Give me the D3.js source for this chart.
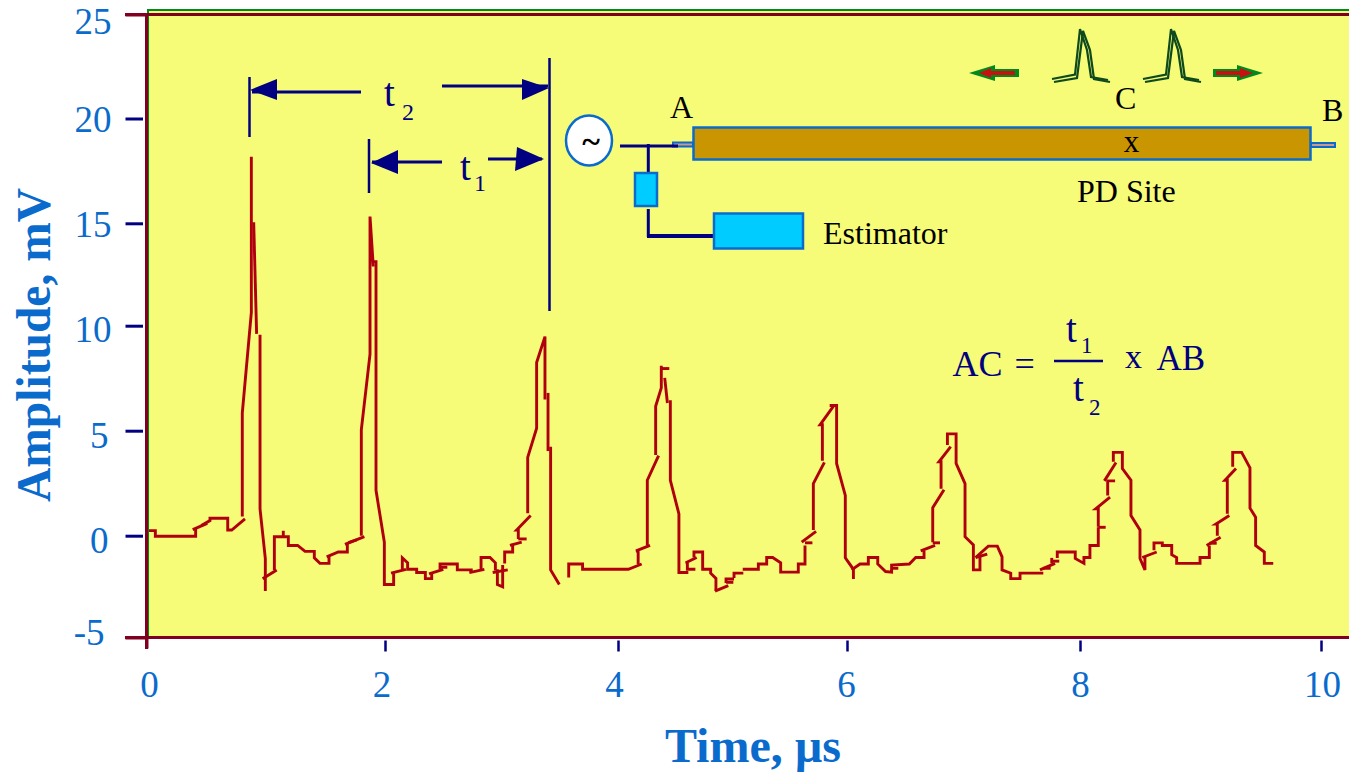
<!DOCTYPE html>
<html><head><meta charset="utf-8">
<style>html,body{margin:0;padding:0;background:#fff;overflow:hidden}svg{display:block}text{font-family:"Liberation Serif","Times New Roman",serif}</style>
<script src="https://cdn.jsdelivr.net/npm/d3@7"></script></head><body>
<script>
const xTicks=[0,2,4,6,8,10];
const yTicks=[-5,0,5,10,15,20,25];
const xTitle="Time, µs";
const yTitle="Amplitude, mV";
// Trace readings [time µs, amplitude mV]; the source trace is broken into pieces.
const traceSegments=[
[[.017,.24],[.071,.24],[.071,-.03],[.414,-.03],[.414,.32]],
[[.389,.29],[.513,.59]],
[[.462,.48],[.536,.72],[.536,.83],[.687,.83],[.687,.27],[.721,.27],[.834,.80]],
[[.811,.91],[.811,5.84],[.888,10.65],[.888,18.17]],
[[.908,15.05],[.933,9.61]],
[[.962,9.57],[.962,1.28],[1.007,-1.12],[1.007,-2.72]],
[[.984,-2.11],[1.104,-1.68]],
[[1.084,-1.68],[1.084,-.05],[1.16,-.05],[1.16,.24],[1.16,-.05],[1.203,-.05],[1.203,-.48],[1.282,-.48],[1.345,-.77],[1.424,-.77],[1.424,-1.09],[1.472,-1.36],[1.549,-1.36],[1.549,-1.01]],
[[1.529,-1.04],[1.628,-.80],[1.705,-.80],[1.705,-.40]],
[[1.685,-.43],[1.85,-.05]],
[[1.713,-.34],[1.784,-.21]],
[[1.824,0],[1.824,5.04],[1.898,8.65],[1.898,15.32],[1.926,12.89]],
[[1.926,13.13],[1.949,13.13],[1.949,2.16],[2.02,-.32],[2.02,-2.40],[2.099,-2.40],[2.099,-1.84]],
[[2.077,-1.84],[2.204,-1.65]],
[[2.173,-1.65],[2.173,-1.09],[2.218,-1.33],[2.218,-1.65],[2.295,-1.65],[2.295,-1.81],[2.369,-1.81],[2.369,-2.11],[2.423,-2.11],[2.423,-1.84]],
[[2.40,-1.87],[2.522,-1.65]],
[[2.494,-1.65],[2.494,-1.39],[2.641,-1.39],[2.641,-1.68],[2.772,-1.68]],
[[2.494,-1.55],[2.556,-1.55]],
[[2.743,-1.81],[2.871,-1.65]],
[[2.843,-1.65],[2.843,-1.07],[2.919,-1.07],[2.965,-1.33],[2.965,-1.71]],
[[2.982,-1.65],[2.982,-2.40],[3.027,-2.51],[3.027,-1.44]],
[[2.942,-1.81],[3.07,-1.68]],
[[3.044,-1.36],[3.044,-.80],[3.112,-.80],[3.112,-.40]],
[[3.089,-.48],[3.189,-.32]],
[[3.16,-.16],[3.231,-.16]],
[[3.16,-.16],[3.16,.27],[3.146,.27],[3.265,.96]],
[[3.24,1.07],[3.24,3.73],[3.316,5.12],[3.316,8.25],[3.387,9.48],[3.387,6.48]],
[[3.413,6.80],[3.413,4.03]],
[[3.435,4.24],[3.435,-1.68],[3.509,-2.40]],
[[3.589,-2.05],[3.589,-1.39],[3.707,-1.39],[3.707,-1.65],[4.097,-1.65],[4.21,-1.39]],
[[4.18,-1.39],[4.18,-.75],[4.162,-.75],[4.281,-.48]],
[[4.258,-.48],[4.258,2.64],[4.354,3.81]],
[[4.329,3.84],[4.329,6.16],[4.377,7.04],[4.377,8.09]],
[[4.377,7.96],[4.445,7.96]],
[[4.406,7.52],[4.429,6.32]],
[[4.454,6.45],[4.454,2.64],[4.527,1.04],[4.527,-1.81],[4.607,-1.81]],
[[4.667,-1.65],[4.599,-1.65],[4.599,-1.33],[4.585,-1.33],[4.678,-1.07]],
[[4.655,-1.07],[4.655,-.80],[4.729,-.80],[4.729,-1.65],[4.797,-1.65],[4.797,-1.84],[4.842,-2.10],[4.842,-2.72]],
[[4.834,-2.72],[4.947,-2.45]],
[[4.928,-2.32],[4.928,-2.13],[4.996,-2.13]],
[[4.928,-2.29],[4.99,-2.29]],
[[4.996,-2.08],[4.996,-1.84],[5.075,-1.84]],
[[5.07,-1.65],[5.203,-1.65],[5.203,-1.39],[5.274,-1.39],[5.274,-1.07],[5.325,-1.07],[5.393,-1.33],[5.393,-1.79],[5.543,-1.79],[5.543,-1.39],[5.6,-1.39],[5.6,-.48]],
[[5.6,-.35],[5.663,-.35]],
[[5.572,-.32],[5.694,.21]],
[[5.671,.27],[5.671,2.48],[5.765,3.49]],
[[5.748,3.57],[5.748,5.28],[5.728,5.28],[5.841,6.16]],
[[5.81,6.2],[5.869,6.2],[5.869,3.44],[5.943,1.92],[5.943,-1.09],[6.012,-1.65],[6.012,-2.13]],
[[5.997,-1.68],[6.068,-1.39],[6.139,-1.39],[6.139,-1.07],[6.219,-1.07],[6.219,-1.39],[6.286,-1.76],[6.337,-1.79],[6.337,-1.44],[6.488,-1.39],[6.542,-1.07],[6.613,-1.07],[6.613,-.75]],
[[6.337,-1.60],[6.394,-1.60]],
[[6.585,-.75],[6.707,-.48]],
[[6.687,-.35],[6.749,-.35]],
[[6.687,-.32],[6.687,1.33],[6.783,2.19]],
[[6.758,2.24],[6.758,3.52],[6.74,3.52],[6.84,4.24]],
[[6.812,4.32],[6.812,4.85],[6.886,4.85],[6.886,3.44],[6.962,2.48],[6.962,-.05],[7.033,-.45],[7.033,-1.68],[7.089,-1.68],[7.089,-1.04]],
[[7.052,-1.07],[7.151,-.91]],
[[7.052,-1.07],[7.16,-.51],[7.237,-.51],[7.277,-1.04],[7.277,-1.68],[7.351,-1.84],[7.351,-2.11],[7.43,-2.11],[7.43,-1.84],[7.628,-1.84]],
[[7.6,-1.68],[7.728,-1.36]],
[[7.628,-1.60],[7.691,-1.60]],
[[7.7,-1.36],[7.7,-1.09]],
[[7.7,-1.25],[7.764,-1.25]],
[[7.747,-1.09],[7.747,-.80],[7.9,-.80],[7.9,-1.12],[7.974,-1.36],[7.974,-1.07],[8.025,-1.07],[8.025,-.48],[8.096,-.48],[8.096,.40]],
[[8.096,.40],[8.159,.40]],
[[8.096,.43],[8.096,1.28],[8.074,1.28],[8.196,1.84]],
[[8.176,1.92],[8.176,2.61],[8.239,2.61]],
[[8.148,2.61],[8.247,3.49]],
[[8.224,3.52],[8.224,3.97],[8.301,3.97],[8.301,3.2],[8.374,2.64],[8.374,.96],[8.451,.27],[8.451,-1.12],[8.493,-1.68],[8.493,-1.04]],
[[8.47,-1.07],[8.593,-.80]],
[[8.57,-.72],[8.57,-.35],[8.641,-.35],[8.641,-.48],[8.721,-.48],[8.721,-.93],[8.763,-1.07],[8.763,-1.36],[8.962,-1.36],[8.962,-1.07],[9.041,-1.07],[9.041,-.48]],
[[9.018,-.48],[9.137,-.08]],
[[9.041,-.37],[9.104,-.37]],
[[9.109,0],[9.109,.56],[9.098,.56],[9.211,.96]],
[[9.194,1.04],[9.194,2.64],[9.174,2.64],[9.268,3.2]],
[[9.24,3.28],[9.24,3.97],[9.316,3.97],[9.387,3.23],[9.387,1.31],[9.435,.88],[9.435,-.48],[9.509,-.80],[9.509,-1.36],[9.585,-1.36]]
];

const W=1349,H=775;
const svg=d3.select("body").append("svg").attr("width",W).attr("height",H);
// the trace was read on an even time grid; the printed tick marks are slightly uneven
const x=d3.scaleLinear().domain([0,10]).range([147,1322]);
const xTickScale=d3.scaleLinear().domain(xTicks).range([146.5,385,618,847,1080,1321]);
const y=d3.scaleLinear().domain(yTicks).range([637.5,535.7,430.7,325.7,223.3,118.5,14.5]);
const NAVY="#000080",DRED="#7F0020",BLUE="#0A6BCC",TRACE="#B00010",YEL="#F6FB78",GREEN="#008A1E";

svg.append("rect").attr("x",148).attr("y",10).attr("width",W-148).attr("height",627.5).attr("fill",YEL);
svg.append("path").attr("d",`M148,637V10H${W}`).attr("fill","none").attr("stroke",GREEN).attr("stroke-width",2);

const xAxis=d3.axisBottom(xTickScale).tickValues(xTicks).tickFormat(String).tickSize(14).tickPadding(19.5);
const yAxis=d3.axisLeft(y).tickValues(yTicks).tickFormat(String).tickSize(21).tickPadding(14);
const gx=svg.append("g").attr("transform","translate(0,637.5)").call(xAxis);
const gy=svg.append("g").attr("transform","translate(146.5,0)").call(yAxis);
for(const g of [gx,gy]){g.select(".domain").remove();
 g.selectAll("text").attr("fill",BLUE).attr("font-size",37).style("font-family",'"Liberation Serif",serif');}
gx.selectAll("line").attr("y1",3).attr("y2",14).attr("stroke",NAVY).attr("stroke-width",2.5);
gy.selectAll("line").attr("x1",-3.5).attr("stroke",NAVY).attr("stroke-width",3);
gy.selectAll(".tick").filter(d=>d===25||d===-5).select("line").attr("x1",0).attr("stroke",DRED);
gx.selectAll(".tick").filter(d=>d===0).select("line").attr("y1",0).attr("y2",11).attr("stroke",DRED).attr("stroke-width",3);
// printed label offsets from their ticks
const xLabelShift=[2.5,-3.5,-4,-1,0,1];
const yLabelShift={"-5":[-7,-5],"0":[-3,4.5],"5":[-3,5],"10":[0,4],"15":[0,1],"20":[0,1.5],"25":[0,7]};
gx.selectAll(".tick text").attr("dx",(d,i)=>xLabelShift[i]);
gy.selectAll(".tick text").attr("transform",d=>`translate(${yLabelShift[d][0]},${yLabelShift[d][1]})`);

svg.append("line").attr("x1",125).attr("x2",W).attr("y1",14.5).attr("y2",14.5).attr("stroke",DRED).attr("stroke-width",3);
svg.append("line").attr("x1",125).attr("x2",W).attr("y1",637.5).attr("y2",637.5).attr("stroke",DRED).attr("stroke-width",3);
svg.append("line").attr("x1",146.5).attr("x2",146.5).attr("y1",14).attr("y2",649).attr("stroke",DRED).attr("stroke-width",3);

svg.append("text").attr("x",753).attr("y",762).attr("text-anchor","middle").attr("font-size",48).attr("font-weight","bold").attr("fill",BLUE).text(xTitle);
svg.append("text").attr("transform","translate(50,345) rotate(-90)").attr("text-anchor","middle").attr("font-size",47.5).attr("font-weight","bold").attr("fill",BLUE).text(yTitle);

const line=d3.line().x(d=>x(d[0])).y(d=>y(d[1]));
svg.append("g").selectAll("path").data(traceSegments).join("path").attr("d",line).attr("fill","none").attr("stroke",TRACE).attr("stroke-width",2.9).attr("stroke-linejoin","miter");

// annotation overlay
const ann=svg.append("g");
const seg=(a,b,c,d,col,w)=>ann.append("line").attr("x1",a).attr("y1",b).attr("x2",c).attr("y2",d).attr("stroke",col).attr("stroke-width",w);
const tri=(pts,col)=>ann.append("polygon").attr("points",pts).attr("fill",col);
const txt=(s,a,b,sz,col,anchor)=>ann.append("text").attr("x",a).attr("y",b).attr("font-size",sz).attr("fill",col||"#000").attr("text-anchor",anchor||"start").text(s);
seg(249.5,77,249.5,137,NAVY,2.5);seg(369,139,369,193,NAVY,2.5);seg(549.5,58,549.5,311,NAVY,2.5);
seg(252,92,361,92,NAVY,3);tri("250,90 277,79 277,100",NAVY);
seg(442,86,548,86,NAVY,3);tri("549,88 522,79 522,100",NAVY);
seg(372,162,442,162,NAVY,3);tri("371,163 398,150 398,174",NAVY);
seg(488,159,542,159,NAVY,3);tri("544,159 517,147 515,171",NAVY);
txt("t",384,106,39,NAVY);txt("2",402,120,24,NAVY);txt("t",460,180,39,NAVY);txt("1",474,191,24,NAVY);

ann.append("ellipse").attr("cx",589).attr("cy",140.5).attr("rx",23).attr("ry",25).attr("fill","#fff").attr("stroke",BLUE).attr("stroke-width",2.5);
txt("~",591,153,34,"#000","middle").attr("font-weight","bold");
ann.append("rect").attr("x",673).attr("y",142.5).attr("width",20).attr("height",4).attr("fill","#C89A8A").attr("stroke",BLUE).attr("stroke-width",2);
ann.append("rect").attr("x",1311).attr("y",143).attr("width",24).attr("height",4).attr("fill","#C89A8A").attr("stroke",BLUE).attr("stroke-width",2);
seg(620,146,678,146,NAVY,3);seg(648.3,144,648.3,173,NAVY,3);seg(648.3,209,648.3,237,NAVY,3);seg(647,236,714,236,NAVY,4);
ann.append("rect").attr("x",693.5).attr("y",127.5).attr("width",617).attr("height",32).attr("fill","#C99500").attr("stroke",BLUE).attr("stroke-width",2.5);
ann.append("rect").attr("x",635).attr("y",173).attr("width",22).attr("height",33).attr("fill","#00CCFF").attr("stroke",BLUE).attr("stroke-width",2.5);
ann.append("rect").attr("x",714).attr("y",213.5).attr("width",89).attr("height",35).attr("fill","#00CCFF").attr("stroke",BLUE).attr("stroke-width",2.5);
txt("A",670,118,32);txt("B",1322,121,32);txt("C",1115,109,32);txt("x",1131.5,152,31,"#000","middle");
txt("PD Site",1077,202,32);txt("Estimator",823,244,32);

const pulseA=[[1052,79],[1075,74.5],[1080,29],[1087,50],[1091,77],[1108,80]];
const pulseB=[[1054,82],[1077,78],[1083,31],[1090,50],[1094,79],[1110,82]];
for(const dx of [0,91]) for(const p of [pulseA,pulseB]){
 ann.append("path").attr("d",d3.line()(p.map(q=>[q[0]+dx,q[1]]))).attr("fill","none").attr("stroke","#0E4A1C").attr("stroke-width",2.2);
}
tri("969,73 995,65 995,69 1019,69 1019,77 995,77 995,81",GREEN);
tri("979,73 991,68 991,71 1015,71 1015,75 991,75 991,78","#C81010");
tri("1263,73 1237,65 1237,69 1213,69 1213,77 1237,77 1237,81",GREEN);
tri("1253,73 1240,68 1240,71 1216,71 1216,75 1240,75 1240,78","#C81010");

txt("AC =",952.5,376,36,NAVY).attr("word-spacing",3);txt("x",1125,368,34,NAVY);txt("AB",1156.5,370,35,NAVY);
txt("t",1066,342,39,NAVY);txt("1",1081,353,23,NAVY);seg(1054,361,1103,361,NAVY,2.5);
txt("t",1073,401,39,NAVY);txt("2",1089,415,23,NAVY);
</script></body></html>
